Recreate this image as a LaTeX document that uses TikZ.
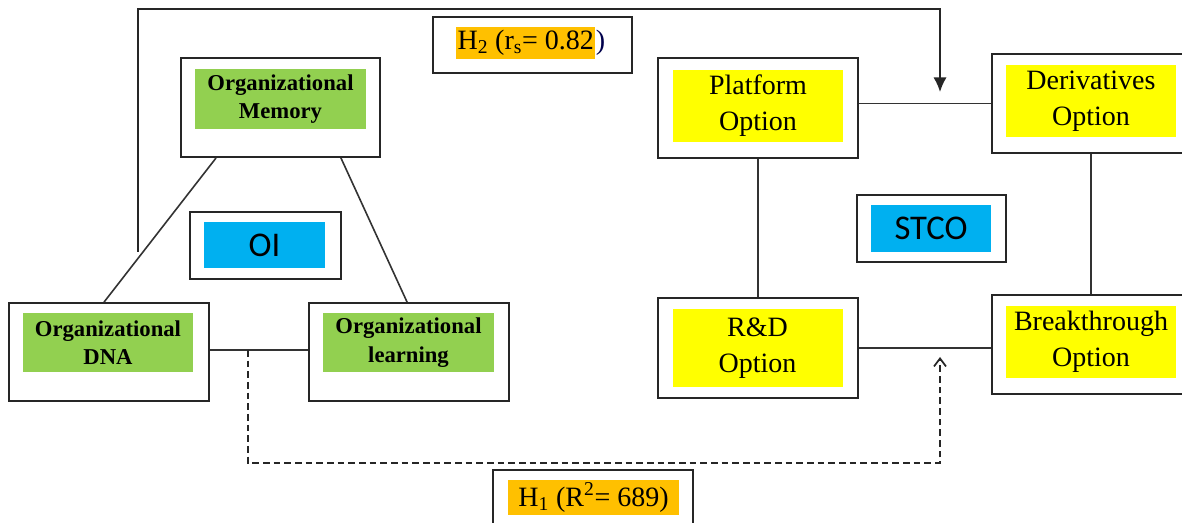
\documentclass[tikz,border=0pt]{standalone}
\usepackage{fontspec}
\setmainfont{Liberation Serif}
\newfontfamily\calib{Carlito}
\usetikzlibrary{arrows.meta,calc}
\definecolor{ogreen}{HTML}{92D050}
\definecolor{oyellow}{HTML}{FFFF00}
\definecolor{oblue}{HTML}{00B0F0}
\definecolor{oorange}{HTML}{FFC000}
\begin{document}
\begin{tikzpicture}[x=0.75pt,y=-0.75pt,
  outerbox/.style={draw=black!85,line width=1.4pt,fill=white,inner sep=0pt},
  greenbox/.style={fill=ogreen,inner sep=0pt,align=center,font=\fontsize{17}{21.5}\selectfont\bfseries},
  yellowbox/.style={fill=oyellow,inner sep=0pt,align=center,font=\fontsize{21}{27}\selectfont},
  bluebox/.style={fill=oblue,inner sep=0pt,align=center,font=\calib\fontsize{26}{30}\selectfont},
  orangebox/.style={fill=oorange,inner sep=0pt,align=center,font=\fontsize{21}{26}\selectfont},
  conn/.style={draw=black!80,line width=1.2pt},
  hyp/.style={draw=black!85,line width=1.3pt}]
\useasboundingbox (0,0) rectangle (1182,523);

% outer boxes
\node[outerbox,minimum width=149.25pt,minimum height=74.25pt] (mem) at (280.5,107.5) {};
\node[outerbox,minimum width=150pt,minimum height=73.5pt] (dna) at (109,352) {};
\node[outerbox,minimum width=150pt,minimum height=73.5pt] (learn) at (409,352) {};
\node[outerbox,minimum width=113.25pt,minimum height=50.25pt] (oi) at (265.5,245.5) {};

\node[outerbox,minimum width=150pt,minimum height=75pt] (plat) at (758,108) {};
\node[outerbox,minimum width=148.5pt,minimum height=74.25pt] (deriv) at (1091,103.5) {};
\node[outerbox,minimum width=150pt,minimum height=75pt] (rd) at (758,348) {};
\node[outerbox,minimum width=148.5pt,minimum height=74.25pt] (bt) at (1091,344.5) {};
\node[outerbox,minimum width=111.75pt,minimum height=50.25pt] (stco) at (931.5,228.5) {};

\node[outerbox,minimum width=149.25pt,minimum height=42pt] (h2box) at (532.5,45) {};
\node[outerbox,minimum width=150pt,minimum height=45pt] (h1box) at (593,500) {};

% inner coloured labels
\node[greenbox,minimum width=128.25pt,minimum height=45pt] (memt) at (280.5,99) {Organizational\\Memory};
\node[greenbox,minimum width=127.5pt,minimum height=44.25pt] (dnat) at (108,342.5) {Organizational\\DNA};
\node[greenbox,minimum width=128.25pt,minimum height=44.25pt] (learnt) at (408.5,342.5) {Organizational\\learning};
\node[bluebox,minimum width=90.75pt,minimum height=34.5pt] (oit) at (264.5,245) {OI};

\node[yellowbox,minimum width=127.5pt,minimum height=54pt] (platt) at (758,106) {Platform\\Option};
\node[yellowbox,minimum width=127.5pt,minimum height=54pt] (derivt) at (1091,101) {Derivatives\\Option};
\node[yellowbox,minimum width=127.5pt,minimum height=58.5pt] (rdt) at (757.5,348) {R\&D\\Option};
\node[yellowbox,minimum width=127.5pt,minimum height=54pt] (btt) at (1091,342) {Breakthrough\\Option};
\node[bluebox,minimum width=90pt,minimum height=35.25pt] (stcot) at (931,228.5) {STCO};

\node[orangebox,minimum width=104.25pt,minimum height=24pt,anchor=west] (h2t) at (456,43) {H\textsubscript{2} (r\textsubscript{s}= 0.82};
\node[inner sep=0pt,anchor=base west,font=\fontsize{21}{26}\selectfont,text=black!70!blue] (h2p) at (h2t.base east) {)};
\node[orangebox,minimum width=128.25pt,minimum height=26.25pt] (h1t) at (593.5,497.5) {H\textsubscript{1} (R\textsuperscript{2}= 689)};

% OI connectors
\draw[conn] ([xshift=27pt]mem.south west) -- ([xshift=72pt]dna.north west);
\draw[conn] ([xshift=-30pt]mem.south east) -- ([xshift=74.25pt]learn.north west);
\draw[conn] ([yshift=1.5pt]dna.east) -- ([yshift=1.5pt]learn.west);

% STCO connectors
\draw[conn] (deriv.west) -- (deriv.west -| plat.east);
\draw[conn] (rd.east) -- (rd.east -| bt.west);
\draw[conn] (plat.south) -- (rd.north);
\draw[conn] (deriv.south) -- (bt.north);

% H2 path
\coordinate (h2a) at (138,252);
\coordinate (h2top) at (138,9);
\coordinate (h2b) at (940,92);
\draw[hyp,-{Latex[length=11pt,width=10pt]}] (h2a) -- (h2top) -| (h2b);

% H1 dashed path
\coordinate (h1a) at (248,350);
\coordinate (h1low) at (248,463);
\coordinate (h1b) at (940,357);
\draw[hyp,dash pattern=on 5pt off 3pt,-{Straight Barb[length=6pt,width=9pt]}] (h1a) -- (h1low) -| (h1b);
\end{tikzpicture}
\end{document}
